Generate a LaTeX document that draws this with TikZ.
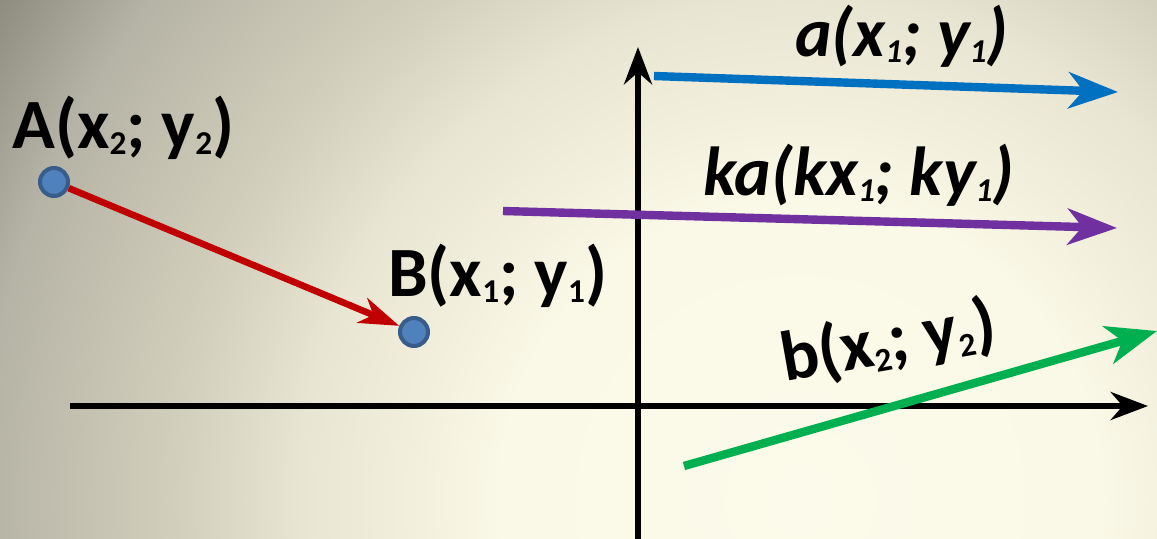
\documentclass[tikz,border=0pt]{standalone}
\usepackage{fontspec}
\setmainfont{Carlito}
\usetikzlibrary{arrows.meta}
\definecolor{bgc0}{HTML}{FCFAEA}
\definecolor{bgc1}{HTML}{FAF8E6}
\definecolor{bgc2}{HTML}{E8E5D2}
\definecolor{bgc3}{HTML}{D3D0BD}
\definecolor{bgc4}{HTML}{B5B3A5}
\definecolor{bgc5}{HTML}{8E8C7E}
\definecolor{bgc6}{HTML}{888678}
\definecolor{vblue}{HTML}{0070C0}
\definecolor{vpurple}{HTML}{7030A0}
\definecolor{vgreen}{HTML}{00B050}
\definecolor{vred}{HTML}{C00000}
\definecolor{ptfill}{HTML}{4F81BD}
\definecolor{ptdraw}{HTML}{385D8A}
\pgfdeclareradialshading{bgshade}{\pgfpoint{0bp}{0bp}}{color(0bp)=(bgc0); color(7.5bp)=(bgc1); color(12.5bp)=(bgc2); color(15.4bp)=(bgc3); color(20.5bp)=(bgc4); color(23.6bp)=(bgc5); color(25bp)=(bgc6); color(50bp)=(bgc6)}
\newcommand\sbs[1]{\raisebox{-5pt}{\fontsize{25}{28}\selectfont #1}}
\begin{document}
\begin{tikzpicture}[x=0.75pt,y=-0.75pt,
  axis/.style={line width=4.1pt,-{Stealth[length=28pt,width=21pt,inset=9pt]}},
  vec/.style={line width=6.3pt,-{Stealth[length=37pt,width=27pt,inset=11pt]}},
  dotnode/.style={circle,fill=ptfill,draw=ptdraw,line width=3pt,minimum size=21pt,inner sep=0pt},
  lab/.style={font=\fontsize{53}{60}\selectfont\bfseries,inner sep=0pt,anchor=base west},
  ilab/.style={lab,font=\fontsize{52}{60}\selectfont\bfseries\itshape}
]
\useasboundingbox (0,0) rectangle (1157,539);
\clip (0,0) rectangle (1157,539);
\shade[shading=bgshade] (800,500) circle (1000);
% axes
\coordinate (xs) at (70,406);
\coordinate (xe) at (1148,406);
\coordinate (ys) at (638,545);
\coordinate (ye) at (638,47);
\draw[axis] (xs) -- (xe);
\draw[axis] (ys) -- (ye);
% vectors
\coordinate (as) at (654,76);
\coordinate (ae) at (1118,92);
\coordinate (ks) at (503,211);
\coordinate (ke) at (1117,228);
\coordinate (bs) at (684,466);
\coordinate (be) at (1157,331);
\draw[vec,vblue] (as) -- (ae);
\draw[vec,vpurple] (ks) -- (ke);
\draw[vec,vgreen,-{Stealth[length=38pt,width=29pt,inset=11pt]}] (bs) -- (be);
% points
\node[dotnode] (A) at (54,182) {};
\node[dotnode] (B) at (414,332) {};
\draw[vred,line width=5pt,-{Stealth[length=30pt,width=20pt,inset=9pt]}] (A) -- (B);
% labels
\node[lab] (lA) at (12,148) {A(x\sbs{2}; y\sbs{2})};
\node[lab] (lB) at (388,296) {B(x\sbs{1}; y\sbs{1})};
\node[ilab] (la) at (795,56) {a(x\sbs{1}; y\sbs{1})};
\node[ilab] (lk) at (703,195) {ka(kx\sbs{1}; ky\sbs{1})};
\node[lab,rotate=10] (lb) at (785,382) {b(x\sbs{2}; y\sbs{2})};
\end{tikzpicture}
\end{document}
